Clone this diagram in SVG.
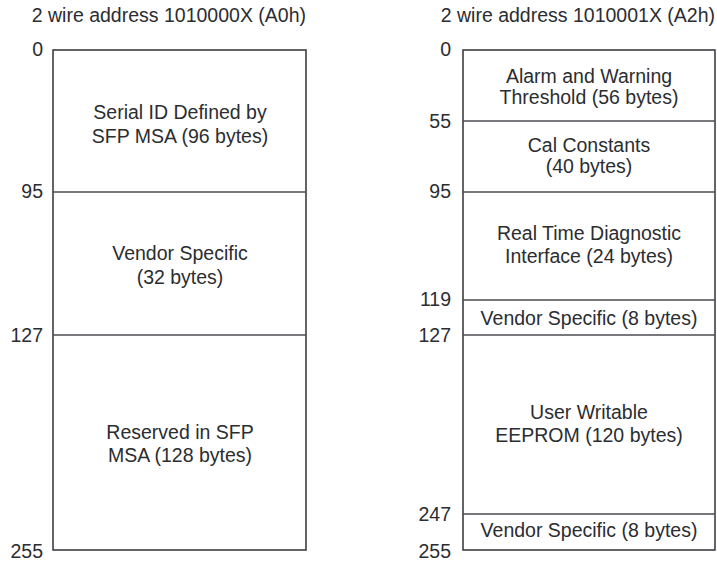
<svg xmlns="http://www.w3.org/2000/svg" width="717" height="562" viewBox="0 0 717 562">
<style>
text{font-family:"Liberation Sans",Arial,sans-serif;font-size:19.5px;fill:#2b2d31}
.t{text-anchor:end}
.n{text-anchor:end}
.l{text-anchor:middle}
.box{fill:#fff;stroke:#3c3f44;stroke-width:1.6}
.div{stroke:#4a4d52;stroke-width:1.3;fill:none}
</style>
<rect width="717" height="562" fill="#fff"/>
<text class="t" x="306" y="22">2 wire address 1010000X (A0h)</text>
<text class="t" x="715" y="22">2 wire address 1010001X (A2h)</text>

<g id="a0-map">
<rect class="box" x="53" y="50" width="253" height="500"/>
<text class="n" x="43" y="56">0</text>
<text class="n" x="43" y="198">95</text>
<text class="n" x="43" y="342">127</text>
<text class="n" x="43" y="558">255</text>
</g>
<g id="a0-serial">
<text class="l" x="180" y="119">Serial ID Defined by</text>
<text class="l" x="180" y="143">SFP MSA (96 bytes)</text>
</g>
<g id="a0-vendor">
<text class="l" x="180" y="260">Vendor Specific</text>
<text class="l" x="180" y="284">(32 bytes)</text>
</g>
<g id="a0-reserved">
<text class="l" x="180" y="439">Reserved in SFP</text>
<text class="l" x="180" y="462">MSA (128 bytes)</text>
</g>

<g id="a2-map">
<rect class="box" x="463" y="50" width="252" height="500"/>
<text class="n" x="451" y="56">0</text>
<text class="n" x="451" y="128">55</text>
<text class="n" x="451" y="198">95</text>
<text class="n" x="451" y="306">119</text>
<text class="n" x="451" y="342">127</text>
<text class="n" x="451" y="521">247</text>
<text class="n" x="451" y="558">255</text>
</g>
<g id="a2-alarm">
<text class="l" x="589" y="83">Alarm and Warning</text>
<text class="l" x="589" y="104">Threshold (56 bytes)</text>
</g>
<g id="a2-cal">
<text class="l" x="589" y="152">Cal Constants</text>
<text class="l" x="589" y="173">(40 bytes)</text>
</g>
<g id="a2-rtd">
<text class="l" x="589" y="240">Real Time Diagnostic</text>
<text class="l" x="589" y="263">Interface (24 bytes)</text>
</g>
<g id="a2-vendor1">
<text class="l" x="589" y="325">Vendor Specific (8 bytes)</text>
</g>
<g id="a2-user">
<text class="l" x="589" y="419">User Writable</text>
<text class="l" x="589" y="442">EEPROM (120 bytes)</text>
</g>
<g id="a2-vendor2">
<text class="l" x="589" y="537">Vendor Specific (8 bytes)</text>
</g>

<g id="connectors">
<line class="div" x1="53" y1="192" x2="306" y2="192"/>
<line class="div" x1="53" y1="335" x2="306" y2="335"/>
<line class="div" x1="463" y1="121" x2="715" y2="121"/>
<line class="div" x1="463" y1="192" x2="715" y2="192"/>
<line class="div" x1="463" y1="300" x2="715" y2="300"/>
<line class="div" x1="463" y1="335" x2="715" y2="335"/>
<line class="div" x1="463" y1="514" x2="715" y2="514"/>
</g>
</svg>
